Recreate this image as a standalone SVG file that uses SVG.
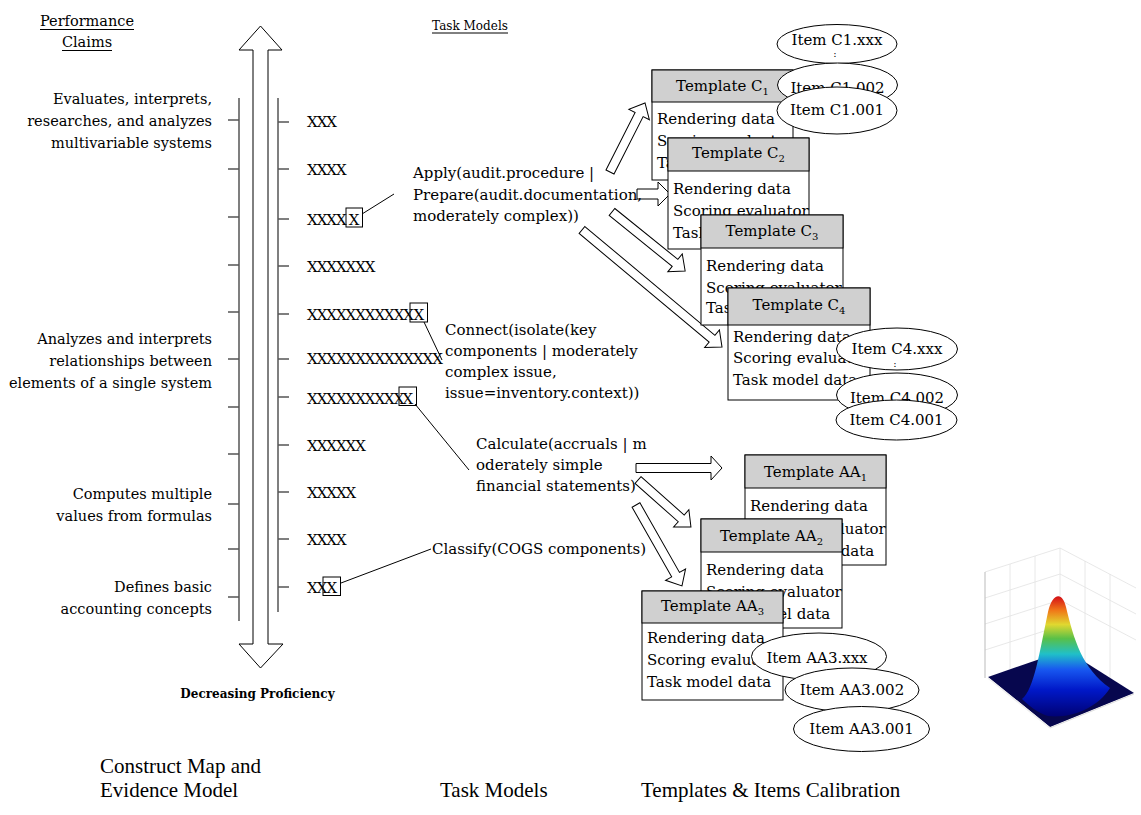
<svg xmlns="http://www.w3.org/2000/svg" width="1141" height="815" viewBox="0 0 1141 815">
<style>
text{font-family:"DejaVu Serif","Liberation Serif",serif;fill:#000}
.t{font-size:15px}
.lab{font-size:14.5px}
.xs{font-size:15px;letter-spacing:-1.05px}
.sub{font-size:10px}
.cap{font-family:"Liberation Serif",serif;font-size:21px}
.bold{font-size:12px;font-weight:bold}
.box{fill:#fff;stroke:#000;stroke-width:1}
.hdr{fill:#d0d0d0;stroke:#000;stroke-width:1}
.ell{fill:#fff;stroke:#000;stroke-width:1}
.ln{stroke:#000;stroke-width:1;fill:none}
.rule{stroke:#555;stroke-width:1.5;fill:none}
.blk{fill:#fff;stroke:#000;stroke-width:1}
.grid{stroke:#e2e2e2;stroke-width:0.8;fill:none}
</style>
<defs>
<linearGradient id="peak" gradientUnits="userSpaceOnUse" x1="0" y1="590" x2="0" y2="718">
<stop offset="0" stop-color="#700000"/>
<stop offset="0.06" stop-color="#d81818"/>
<stop offset="0.16" stop-color="#f07818"/>
<stop offset="0.27" stop-color="#e0d830"/>
<stop offset="0.38" stop-color="#58c048"/>
<stop offset="0.5" stop-color="#20c0c8"/>
<stop offset="0.62" stop-color="#1858f0"/>
<stop offset="0.78" stop-color="#0018c8"/>
<stop offset="1" stop-color="#000070"/>
</linearGradient>
</defs>
<rect width="1141" height="815" fill="#fff"/>

<!-- proficiency scale -->
<g id="scale">
<polygon class="blk" points="260.5,26 282,50 268,50 268,644 283,644 260.5,668 239,644 253,644 253,50 239,50"/>
<line class="rule" x1="239" y1="98" x2="239" y2="621"/>
<line class="rule" x1="278" y1="98" x2="278" y2="612"/>
<g class="rule">
<line x1="228" y1="120" x2="239" y2="120"/><line x1="228" y1="169" x2="239" y2="169"/>
<line x1="228" y1="217" x2="239" y2="217"/><line x1="228" y1="265" x2="239" y2="265"/>
<line x1="228" y1="312" x2="239" y2="312"/><line x1="228" y1="359" x2="239" y2="359"/>
<line x1="228" y1="407" x2="239" y2="407"/><line x1="228" y1="454" x2="239" y2="454"/>
<line x1="228" y1="504" x2="239" y2="504"/><line x1="228" y1="549" x2="239" y2="549"/>
<line x1="228" y1="597" x2="239" y2="597"/>
<line x1="278" y1="122" x2="289" y2="122"/><line x1="278" y1="169" x2="289" y2="169"/>
<line x1="278" y1="219" x2="289" y2="219"/><line x1="278" y1="266" x2="289" y2="266"/>
<line x1="278" y1="314" x2="289" y2="314"/><line x1="278" y1="359" x2="289" y2="359"/>
<line x1="278" y1="397" x2="289" y2="397"/><line x1="278" y1="445" x2="289" y2="445"/>
<line x1="278" y1="492" x2="289" y2="492"/><line x1="278" y1="539" x2="289" y2="539"/>
<line x1="278" y1="587" x2="289" y2="587"/>
</g>
<text class="bold" x="257.5" y="698" text-anchor="middle">Decreasing Proficiency</text>
</g>

<!-- connectors -->
<g id="connectors">
<line class="ln" x1="362" y1="214" x2="394" y2="194"/>
<line class="ln" x1="424" y1="322" x2="442" y2="360"/>
<line class="ln" x1="415" y1="404" x2="469" y2="470"/>
<line class="ln" x1="341" y1="583" x2="431" y2="549"/>
<polygon class="blk" points="0,-4.5 64.4,-4.5 64.4,-11.5 77.4,0 64.4,11.5 64.4,4.5 0,4.5" transform="translate(610,172) rotate(-63.1)"/>
<polygon class="blk" points="0,-5 21,-5 21,-12 33,0 21,12 21,5 0,5" transform="translate(637,194)"/>
<polygon class="blk" points="0,-4.5 81,-4.5 81,-11.5 94,0 81,11.5 81,4.5 0,4.5" transform="translate(612,212) rotate(38.9)"/>
<polygon class="blk" points="0,-4.5 169.5,-4.5 169.5,-11.5 182.5,0 169.5,11.5 169.5,4.5 0,4.5" transform="translate(582,230) rotate(39.9)"/>
<polygon class="blk" points="0,-4.5 75,-4.5 75,-12 86,0 75,12 75,4.5 0,4.5" transform="translate(636,468)"/>
<polygon class="blk" points="0,-4.5 57.8,-4.5 57.8,-11.5 70.8,0 57.8,11.5 57.8,4.5 0,4.5" transform="translate(638,480) rotate(41.6)"/>
<polygon class="blk" points="0,-4.5 80.1,-4.5 80.1,-11.5 93.1,0 80.1,11.5 80.1,4.5 0,4.5" transform="translate(636,505) rotate(60.4)"/>
</g>

<!-- headers -->
<g id="performance-claims-header">
<text class="lab" x="87" y="26" text-anchor="middle">Performance</text>
<text class="lab" x="87" y="47" text-anchor="middle">Claims</text>
<line class="ln" x1="40" y1="29.5" x2="134" y2="29.5"/>
<line class="ln" x1="62" y1="50.5" x2="112" y2="50.5"/>
</g>
<g id="task-models-header">
<text x="470" y="30" text-anchor="middle" style="font-size:12px">Task Models</text>
<line class="ln" x1="432" y1="33" x2="508" y2="33"/>
</g>

<!-- performance claims -->
<g id="claim-1">
<text class="lab" x="212" y="103.5" text-anchor="end">Evaluates, interprets,</text>
<text class="lab" x="212" y="125.5" text-anchor="end">researches, and analyzes</text>
<text class="lab" x="212" y="147.5" text-anchor="end">multivariable systems</text>
</g>
<g id="claim-2">
<text class="lab" x="212" y="343.5" text-anchor="end">Analyzes and interprets</text>
<text class="lab" x="212" y="365.5" text-anchor="end">relationships between</text>
<text class="lab" x="212" y="387.5" text-anchor="end">elements of a single system</text>
</g>
<g id="claim-3">
<text class="lab" x="212" y="498.5" text-anchor="end">Computes multiple</text>
<text class="lab" x="212" y="520.5" text-anchor="end">values from  formulas</text>
</g>
<g id="claim-4">
<text class="lab" x="212" y="592" text-anchor="end">Defines basic</text>
<text class="lab" x="212" y="614" text-anchor="end">accounting concepts</text>
</g>

<!-- evidence rows -->
<g id="evidence-rows">
<text class="xs" x="307" y="127">XXX</text>
<text class="xs" x="307" y="175">XXXX</text>
<text class="xs" x="307" y="225">XXXX</text>
<rect class="box" x="346" y="208" width="16.5" height="19" style="fill:none"/>
<text class="t" x="354.2" y="225" text-anchor="middle">X</text>
<text class="xs" x="307" y="272">XXXXXXX</text>
<text class="xs" x="307" y="320">XXXXXXXXXXX</text>
<rect class="box" x="410" y="303" width="17.5" height="19" style="fill:none"/>
<text class="t" x="418.8" y="320" text-anchor="middle">X</text>
<text class="xs" x="307" y="364">XXXXXXXXXXXXXX</text>
<text class="xs" x="307" y="404">XXXXXXXXXX</text>
<rect class="box" x="399" y="387" width="17.5" height="18.5" style="fill:none"/>
<text class="t" x="407.8" y="404" text-anchor="middle">X</text>
<text class="xs" x="307" y="451">XXXXXX</text>
<text class="xs" x="307" y="498">XXXXX</text>
<text class="xs" x="307" y="545">XXXX</text>
<text class="xs" x="307" y="593">XX</text>
<rect class="box" x="323" y="577" width="17.5" height="18.5" style="fill:none"/>
<text class="t" x="331.8" y="593" text-anchor="middle">X</text>
</g>

<!-- task models -->
<g id="task-apply">
<text class="t" x="413" y="178">Apply(audit.procedure |</text>
<text class="t" x="413" y="199.5">Prepare(audit.documentation,</text>
<text class="t" x="413" y="221">moderately complex))</text>
</g>
<g id="task-connect">
<text class="t" x="445" y="335">Connect(isolate(key</text>
<text class="t" x="445" y="356">components | moderately</text>
<text class="t" x="445" y="377">complex issue,</text>
<text class="t" x="445" y="398">issue=inventory.context))</text>
</g>
<g id="task-calculate">
<text class="t" x="476" y="449">Calculate(accruals | m</text>
<text class="t" x="476" y="470">oderately  simple</text>
<text class="t" x="476" y="491">financial statements)</text>
</g>
<g id="task-classify">
<text class="t" x="432" y="554">Classify(COGS components)</text>
</g>

<!-- templates C -->
<g id="template-c1">
<rect class="box" x="652" y="70" width="141" height="110"/>
<rect class="hdr" x="652" y="70" width="141" height="32"/>
<text class="t" x="722.5" y="91" text-anchor="middle">Template C<tspan class="sub" dy="4">1</tspan></text>
<text class="t" x="657" y="123.5">Rendering data</text>
<text class="t" x="657" y="146">Scoring evaluator</text>
<text class="t" x="657" y="168">Task model data</text>
</g>
<g id="item-c1-xxx">
<ellipse class="ell" cx="837" cy="44" rx="60" ry="19.5"/>
<text class="t" x="837" y="45" text-anchor="middle">Item C1.xxx</text>
<text x="835" y="57" text-anchor="middle" style="font-size:10px">:</text>
</g>
<g id="item-c1-002">
<ellipse class="ell" cx="837.5" cy="85" rx="60" ry="22"/>
<text class="t" x="837.5" y="93" text-anchor="middle">Item C1.002</text>
</g>
<g id="item-c1-001">
<ellipse class="ell" cx="837" cy="110.5" rx="60" ry="23.5"/>
<text class="t" x="837" y="115" text-anchor="middle">Item C1.001</text>
</g>
<g id="template-c2">
<rect class="box" x="668" y="138" width="141" height="111"/>
<rect class="hdr" x="668" y="138" width="141" height="33"/>
<text class="t" x="738.5" y="158" text-anchor="middle">Template C<tspan class="sub" dy="4">2</tspan></text>
<text class="t" x="673" y="194">Rendering data</text>
<text class="t" x="673" y="216">Scoring evaluator</text>
<text class="t" x="673" y="238">Task model data</text>
</g>
<g id="template-c3">
<rect class="box" x="701" y="215" width="142" height="110"/>
<rect class="hdr" x="701" y="215" width="142" height="33"/>
<text class="t" x="772" y="236" text-anchor="middle">Template C<tspan class="sub" dy="4">3</tspan></text>
<text class="t" x="706" y="271">Rendering data</text>
<text class="t" x="706" y="292.5">Scoring evaluator</text>
<text class="t" x="706" y="313">Task model data</text>
</g>
<g id="template-c4">
<rect class="box" x="728" y="288" width="142" height="112"/>
<rect class="hdr" x="728" y="288" width="142" height="37"/>
<text class="t" x="799" y="310" text-anchor="middle">Template C<tspan class="sub" dy="4">4</tspan></text>
<text class="t" x="733" y="342">Rendering data</text>
<text class="t" x="733" y="363">Scoring evaluator</text>
<text class="t" x="733" y="385">Task model data</text>
</g>
<g id="item-c4-xxx">
<ellipse class="ell" cx="897" cy="349" rx="60.5" ry="21"/>
<text class="t" x="897" y="354" text-anchor="middle">Item C4.xxx</text>
<text x="895" y="367" text-anchor="middle" style="font-size:10px">:</text>
</g>
<g id="item-c4-002">
<ellipse class="ell" cx="897" cy="395" rx="60.5" ry="22"/>
<text class="t" x="897" y="403" text-anchor="middle">Item C4.002</text>
</g>
<g id="item-c4-001">
<ellipse class="ell" cx="896.5" cy="420" rx="60.5" ry="20"/>
<text class="t" x="896.5" y="425" text-anchor="middle">Item C4.001</text>
</g>

<!-- templates AA -->
<g id="template-aa1">
<rect class="box" x="745" y="455" width="141" height="110"/>
<rect class="hdr" x="745" y="455" width="141" height="33"/>
<text class="t" x="815.5" y="477" text-anchor="middle">Template AA<tspan class="sub" dy="4">1</tspan></text>
<text class="t" x="750" y="511">Rendering data</text>
<text class="t" x="750" y="533.5">Scoring evaluator</text>
<text class="t" x="750" y="556">Task model data</text>
</g>
<g id="template-aa2">
<rect class="box" x="701" y="519" width="141" height="109"/>
<rect class="hdr" x="701" y="519" width="141" height="33"/>
<text class="t" x="771.5" y="541" text-anchor="middle">Template AA<tspan class="sub" dy="4">2</tspan></text>
<text class="t" x="706" y="575">Rendering data</text>
<text class="t" x="706" y="597">Scoring evaluator</text>
<text class="t" x="706" y="619">Task model data</text>
</g>
<g id="template-aa3">
<rect class="box" x="642" y="591" width="141" height="109"/>
<rect class="hdr" x="642" y="591" width="141" height="32"/>
<text class="t" x="712.5" y="611" text-anchor="middle">Template AA<tspan class="sub" dy="4">3</tspan></text>
<text class="t" x="647" y="643">Rendering data</text>
<text class="t" x="647" y="665">Scoring evaluator</text>
<text class="t" x="647" y="687">Task model data</text>
</g>
<g id="item-aa3-xxx">
<ellipse class="ell" cx="819" cy="656.5" rx="67.5" ry="23.5"/>
<text class="t" x="817" y="663" text-anchor="middle">Item AA3.xxx</text>
<text x="829" y="675" text-anchor="middle" style="font-size:10px">:</text>
</g>
<g id="item-aa3-002">
<ellipse class="ell" cx="852" cy="690" rx="67" ry="22"/>
<text class="t" x="852" y="695" text-anchor="middle">Item AA3.002</text>
</g>
<g id="item-aa3-001">
<ellipse class="ell" cx="861.5" cy="729" rx="68" ry="22.5"/>
<text class="t" x="861.5" y="734" text-anchor="middle">Item AA3.001</text>
</g>

<!-- calibration surface plot -->
<g id="calibration-plot">
<line class="grid" x1="985" y1="572" x2="1060" y2="548"/>
<line class="grid" x1="1060" y1="548" x2="1060" y2="650"/>
<line class="grid" x1="1060" y1="548" x2="1136" y2="588"/>
<line class="grid" x1="1010" y1="564" x2="1010" y2="669"/>
<line class="grid" x1="1035" y1="556" x2="1035" y2="660"/>
<line class="grid" x1="1085" y1="561" x2="1085" y2="664"/>
<line class="grid" x1="1110" y1="574" x2="1110" y2="678"/>
<line class="grid" x1="985" y1="598" x2="1060" y2="574"/>
<line class="grid" x1="985" y1="624" x2="1060" y2="600"/>
<line class="grid" x1="985" y1="650" x2="1060" y2="626"/>
<line class="grid" x1="1060" y1="574" x2="1136" y2="614"/>
<line class="grid" x1="1060" y1="600" x2="1136" y2="640"/>
<line x1="985" y1="572" x2="985" y2="678" stroke="#bbb" stroke-width="1"/>
<polygon points="988,677 1066,650 1134,693 1050,727" fill="#07074e"/>
<path d="M1022,699 C1034,690 1040,650 1048,612 C1052,594 1062,590 1066,607 C1074,640 1082,668 1110,688 C1098,708 1070,719 1048,716 C1038,713 1028,705 1022,699 Z" fill="url(#peak)"/>
<line x1="988" y1="678" x2="1050" y2="728" stroke="#eee" stroke-width="1.5"/>
<line x1="1050" y1="728" x2="1134" y2="694" stroke="#ddd" stroke-width="1"/>
</g>

<!-- bottom captions -->
<g id="caption-construct-map">
<text class="cap" x="100" y="773">Construct Map and</text>
<text class="cap" x="100" y="797">Evidence Model</text>
</g>
<g id="caption-task-models">
<text class="cap" x="440" y="797">Task Models</text>
</g>
<g id="caption-templates">
<text class="cap" x="641" y="797">Templates &amp; Items Calibration</text>
</g>
</svg>
